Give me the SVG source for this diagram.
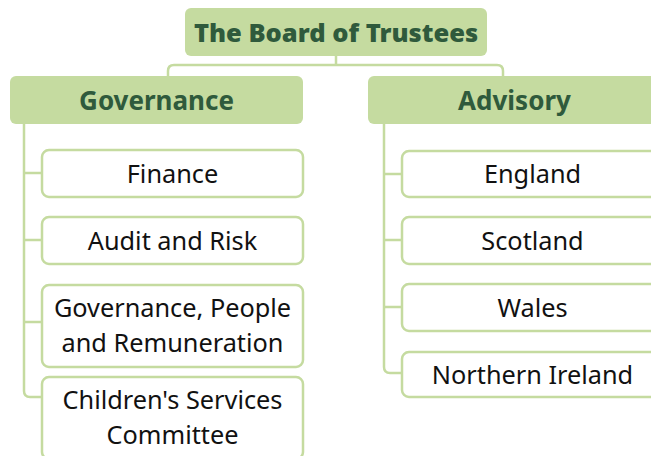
<svg xmlns="http://www.w3.org/2000/svg" width="651" height="456" viewBox="0 0 651 456">
<style>
.hd{fill:#c5dba0;stroke:none}
.ch{fill:#ffffff;stroke:#c5dba0;stroke-width:2.5}
.ln{fill:none;stroke:#c5dba0;stroke-width:2.5}
.t1{font-family:"Noto Sans",sans-serif;font-weight:900;font-size:25.5px;fill:#2f5a3c;text-anchor:middle}
.t2{font-family:"Noto Sans",sans-serif;font-weight:bold;font-size:26px;fill:#2f5a3c;text-anchor:middle}
.t3{font-family:"Noto Sans",sans-serif;font-size:25.3px;fill:#111111;text-anchor:middle}
</style>
<rect width="651" height="456" fill="#ffffff"/>
<g id="connectors">
<path class="ln" d="M336,56 V65 M168,76 V71 Q168,65 174,65 H497 Q503,65 503,71 V76"/>
<path class="ln" d="M24,124 V391 Q24,397 30,397 H42 M24,173 H42 M24,240 H42 M24,322 H42"/>
<path class="ln" d="M384,124 V367 Q384,373 390,373 H402 M384,174 H402 M384,240 H402 M384,307 H402"/>
</g>
<g id="board"><rect class="hd" x="185" y="8" width="302" height="48" rx="6"/><text class="t1" x="336" y="42">The Board of Trustees</text></g>
<g id="governance"><rect class="hd" x="10" y="76" width="293" height="48" rx="6"/><text class="t2" x="156.5" y="110">Governance</text></g>
<g id="advisory"><rect class="hd" x="368" y="76" width="293" height="48" rx="6"/><text class="t2" x="514.5" y="110">Advisory</text></g>
<g id="finance"><rect class="ch" x="42" y="150" width="261" height="47" rx="7"/><text class="t3" x="172.5" y="183">Finance</text></g>
<g id="audit"><rect class="ch" x="42" y="217" width="261" height="47" rx="7"/><text class="t3" x="172.5" y="250">Audit and Risk</text></g>
<g id="gpr"><rect class="ch" x="42" y="285" width="261" height="82" rx="7"/><text class="t3" x="172.5" y="317">Governance, People</text><text class="t3" x="172.5" y="352">and Remuneration</text></g>
<g id="csc"><rect class="ch" x="42" y="377" width="261" height="82" rx="7"/><text class="t3" x="172.5" y="409">Children's Services</text><text class="t3" x="172.5" y="444">Committee</text></g>
<g id="england"><rect class="ch" x="402" y="151" width="261" height="46" rx="7"/><text class="t3" x="532.5" y="183">England</text></g>
<g id="scotland"><rect class="ch" x="402" y="217" width="261" height="47" rx="7"/><text class="t3" x="532.5" y="250">Scotland</text></g>
<g id="wales"><rect class="ch" x="402" y="284" width="261" height="47" rx="7"/><text class="t3" x="532.5" y="317">Wales</text></g>
<g id="ni"><rect class="ch" x="402" y="352" width="261" height="45" rx="7"/><text class="t3" x="532.5" y="384">Northern Ireland</text></g>
</svg>
